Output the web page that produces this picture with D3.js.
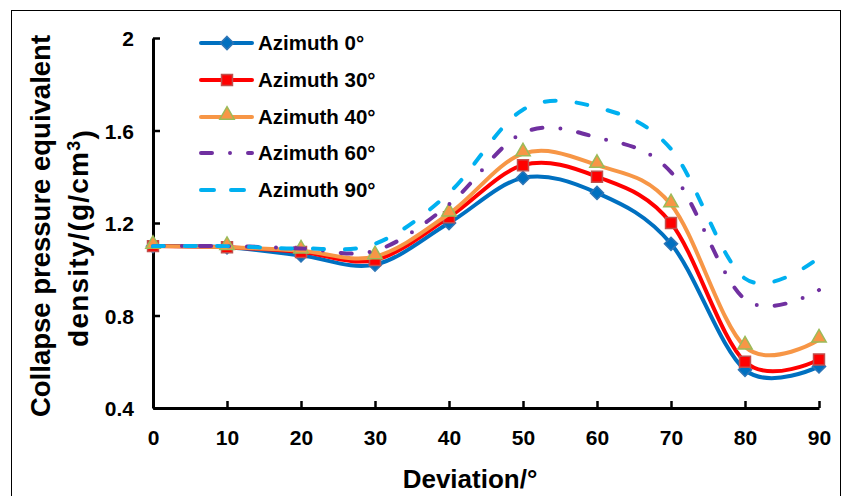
<!DOCTYPE html>
<html>
<head>
<meta charset="utf-8">
<script src="https://cdn.jsdelivr.net/npm/d3@7"></script>
<style>
  body { margin: 0; background: #fff; }
  text { font-family: "Liberation Sans", Arial, sans-serif; font-weight: bold; fill: #000; }
</style>
</head>
<body>
<div class="chart"></div>
<script>
// data
const deviation = [0, 10, 20, 30, 40, 50, 60, 70, 80, 90];
const az0  = [1.10, 1.095, 1.06, 1.02, 1.20, 1.395, 1.33, 1.11, 0.565, 0.58];
const az30 = [1.10, 1.095, 1.075, 1.04, 1.225, 1.45, 1.40, 1.20, 0.60, 0.61];
const az40 = [1.10, 1.095, 1.08, 1.055, 1.24, 1.50, 1.45, 1.28, 0.665, 0.695];
const az60 = [1.10, 1.10, 1.09, 1.08, 1.28, 1.59, 1.57, 1.42, 0.87, 0.91];
const az90 = [1.10, 1.10, 1.09, 1.11, 1.33, 1.69, 1.70, 1.52, 0.96, 1.05];
const yTicks = [0.4, 0.8, 1.2, 1.6, 2];
const seriesNames = ["Azimuth 0°", "Azimuth 30°", "Azimuth 40°", "Azimuth 60°", "Azimuth 90°"];

const series = [
  { name: seriesNames[0], values: az0,  color: "#0070C0", marker: "diamond",  fill: "#0070C0", edge: "#2E75B6" },
  { name: seriesNames[1], values: az30, color: "#FF0000", marker: "square",   fill: "#FF0000", edge: "#C0504D" },
  { name: seriesNames[2], values: az40, color: "#F79646", marker: "triangle", fill: "#F79646", edge: "#9BBB59" },
  { name: seriesNames[3], values: az60, color: "#7030A0", dash: "11,18,0,18" },
  { name: seriesNames[4], values: az90, color: "#00B0F0", dash: "11,21" }
];

const W = 843, H = 496;
const svg = d3.select(".chart").append("svg")
  .attr("width", W)
  .attr("height", H);

svg.append("rect")
  .attr("x", 11.5).attr("y", 10.5)
  .attr("width", 829).attr("height", 500)
  .attr("fill", "none")
  .attr("stroke", "#000")
  .attr("stroke-width", 1);

const x = d3.scaleLinear().domain([0, 90]).range([153, 819]);
const y = d3.scaleLinear().domain([0.4, 2]).range([408, 38]);

// axes, ticks point inward
const xAxis = svg.append("g")
  .attr("transform", `translate(0,${y(0.4)})`)
  .call(d3.axisBottom(x).tickValues(deviation).tickSize(-7).tickSizeOuter(0).tickPadding(22));
const yAxis = svg.append("g")
  .attr("transform", `translate(${x(0)},0)`)
  .call(d3.axisLeft(y).tickValues(yTicks).tickFormat(d3.format("")).tickSize(-7).tickSizeOuter(0).tickPadding(19));

[xAxis, yAxis].forEach(g => {
  g.select(".domain").attr("stroke", "#000").attr("stroke-width", 3);
  g.selectAll(".tick line").attr("stroke", "#000").attr("stroke-width", 2.5);
  g.selectAll(".tick text").style("font-size", "21px").style("font-family", "Liberation Sans, Arial, sans-serif").style("font-weight", "bold").attr("fill", "#000");
});
yAxis.selectAll(".tick text").attr("dy", "0.36em");
xAxis.selectAll(".tick text").attr("dy", "0.71em");

// axis titles
svg.append("text")
  .attr("x", 470).attr("y", 488)
  .attr("text-anchor", "middle")
  .style("font-size", "26px")
  .text("Deviation/°");

const yTitle = svg.append("g").attr("transform", "rotate(-90)");
yTitle.append("text")
  .attr("x", -226).attr("y", 50)
  .attr("text-anchor", "middle")
  .style("font-size", "27.5px")
  .text("Collapse pressure equivalent");
const t2 = yTitle.append("text")
  .attr("x", -238).attr("y", 88)
  .attr("text-anchor", "middle")
  .style("font-size", "28px")
  .style("letter-spacing", "1.2px");
t2.append("tspan").text("density/(g/cm");
t2.append("tspan").attr("dy", "-0.45em").style("font-size", "18px").text("3");
t2.append("tspan").attr("dy", "0.45em").text(")");

// lines
const line = d3.line()
  .x((d, i) => x(deviation[i]))
  .y(d => y(d))
  .curve(d3.curveCatmullRom.alpha(0));

const symbols = {
  diamond: d3.symbol().type(d3.symbolDiamond2).size(110),
  square: d3.symbol().type(d3.symbolSquare).size(120),
  triangle: d3.symbol().type(d3.symbolTriangle).size(90)
};

function drawMarker(g, s, cx, cy) {
  g.append("path")
    .attr("d", symbols[s.marker]())
    .attr("transform", `translate(${cx},${cy})` + (s.marker === "triangle" ? " translate(0,-2)" : ""))
    .attr("fill", s.fill)
    .attr("stroke", s.edge)
    .attr("stroke-width", 1.5);
}

// each series draws its line then its markers, in series order (like excel)
const plot = svg.append("g");
series.forEach(s => {
  plot.append("path")
    .attr("d", line(s.values))
    .attr("fill", "none")
    .attr("stroke", s.color)
    .attr("stroke-width", 4)
    .attr("stroke-linecap", "round")
    .attr("stroke-dasharray", s.dash || null);
  if (s.marker) s.values.forEach((v, i) => drawMarker(plot, s, x(deviation[i]), y(v)));
});

// legend
const legend = svg.append("g");
const legY = [43, 80, 117, 153, 190];
series.forEach((s, i) => {
  const g = legend.append("g").attr("transform", `translate(0,${legY[i]})`);
  g.append("line")
    .attr("x1", 201).attr("x2", 252)
    .attr("stroke", s.color)
    .attr("stroke-width", 4)
    .attr("stroke-linecap", "round")
    .attr("stroke-dasharray", s.dash ? (i === 3 ? "11,18,0,18" : "13,17") : null);
  if (s.marker) drawMarker(g, s, 227, 0);
  g.append("text")
    .attr("x", 258).attr("y", 0).attr("dy", "0.36em")
    .style("font-size", "20.5px")
    .text(s.name);
});
</script>
</body>
</html>
